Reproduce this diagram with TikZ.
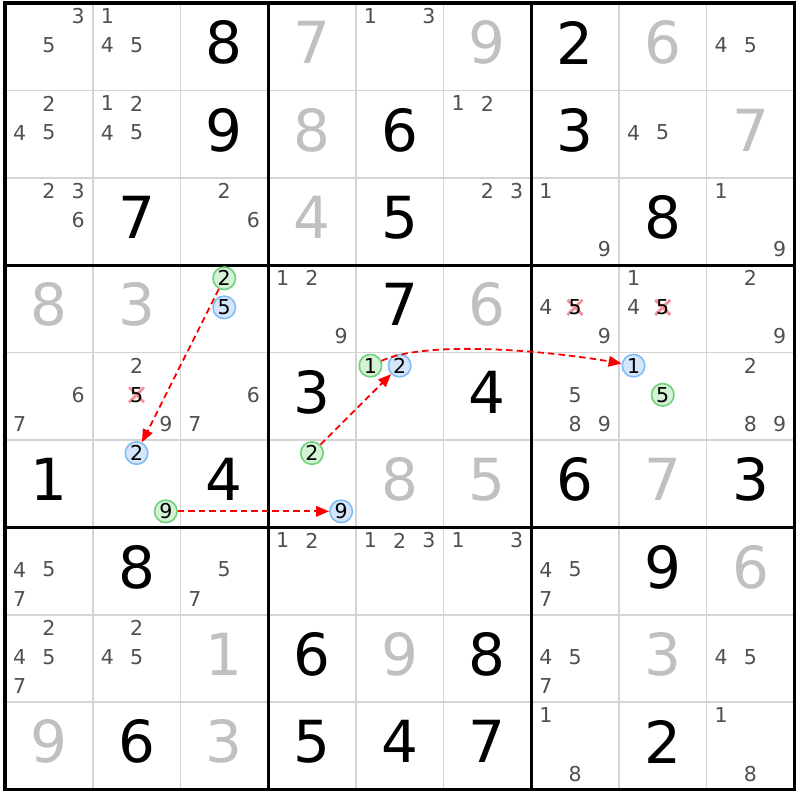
\documentclass[tikz,border=0pt]{standalone}
\usepackage{fontspec}
\setmainfont{DejaVu Sans}
\usetikzlibrary{arrows.meta}
\definecolor{gridgray}{RGB}{212,212,212}
\definecolor{candgray}{RGB}{80,80,80}
\definecolor{solvgray}{RGB}{192,192,192}
\definecolor{gfill}{RGB}{212,242,212}
\definecolor{gline}{RGB}{110,210,125}
\definecolor{bfill}{RGB}{212,230,252}
\definecolor{bline}{RGB}{130,188,242}
\definecolor{xpink}{RGB}{242,125,135}
\definecolor{linkred}{RGB}{250,0,0}
\tikzset{
  given/.style={inner sep=0pt,font=\fontsize{58}{60}\selectfont,text=black},
  solved/.style={given,text=solvgray},
  cand/.style={inner sep=0pt,font=\fontsize{20.5}{22}\selectfont,text=candgray},
  elim/.style={cand,text=black},
  xmark/.style={draw=xpink,line width=2.8pt,opacity=0.85},
  gmark/.style={circle,inner sep=0pt,minimum size=22.5pt,draw=gline,fill=gfill,line width=1.6pt,font=\fontsize{20.5}{22}\selectfont,text=black},
  bmark/.style={gmark,draw=bline,fill=bfill},
  thin grid/.style={draw=gridgray,line width=1.6pt},
  thick grid/.style={draw=black,line width=3.2pt},
  link/.style={draw=linkred,line width=1.8pt,dash pattern=on 6.5pt off 4pt,-{Triangle[length=13pt,width=10.5pt]}}
}
\newcommand\sdpos[3]{%
  \pgfmathsetmacro\px{5+87.7*#2+(mod(#3-1,3)+0.5)*29.233}%
  \pgfmathsetmacro\py{3+87.4*#1+(floor((#3-1)/3)+0.5)*29.133-1.5}}
\newcommand\sdbig[2]{%
  \pgfmathsetmacro\px{5+87.7*(#2+0.5)}%
  \pgfmathsetmacro\py{3+87.4*#1+39.5}}
\begin{document}
\begin{tikzpicture}[x=1pt,y=-1pt]
\useasboundingbox (0,0) rectangle (800,800);
\fill[white] (0,0) rectangle (800,800);
% thin grid
\foreach \i in {1,2,4,5,7,8} {
  \draw[thin grid] (5+87.7*\i,3) -- (5+87.7*\i,789.6);
  \draw[thin grid] (5,3+87.4*\i) -- (794.3,3+87.4*\i);
}
% thick grid
\foreach \i in {3,6} {
  \draw[thick grid] (5+87.7*\i,3) -- (5+87.7*\i,789.6);
  \draw[thick grid] (5,3+87.4*\i) -- (794.3,3+87.4*\i);
}
\draw[thick grid] (5,3) rectangle (794.3,789.6);
% given digits
\foreach \r/\c/\d in {0/2/8,0/6/2,1/2/9,1/4/6,1/6/3,2/1/7,2/4/5,2/7/8,3/4/7,4/3/3,4/5/4,5/0/1,5/2/4,5/6/6,5/8/3,6/1/8,6/7/9,7/3/6,7/5/8,8/1/6,8/3/5,8/4/4,8/5/7,8/7/2} {
  \sdbig{\r}{\c}
  \node[given] (v\r\c) at (\px,\py) {\d};
}
% solved digits
\foreach \r/\c/\d in {0/3/7,0/5/9,0/7/6,1/3/8,1/8/7,2/3/4,3/0/8,3/1/3,3/5/6,5/4/8,5/5/5,5/7/7,6/8/6,7/2/1,7/4/9,7/7/3,8/0/9,8/2/3} {
  \sdbig{\r}{\c}
  \node[solved] (v\r\c) at (\px,\py) {\d};
}
% candidates
\foreach \r/\c/\ds in {0/0/{3,5},0/1/{1,4,5},0/4/{1,3},0/8/{4,5},
  1/0/{2,4,5},1/1/{1,2,4,5},1/5/{1,2},1/7/{4,5},
  2/0/{2,3,6},2/2/{2,6},2/5/{2,3},2/6/{1,9},2/8/{1,9},
  3/3/{1,2,9},3/6/{4,9},3/7/{1,4},3/8/{2,9},
  4/0/{6,7},4/1/{2,9},4/2/{6,7},4/6/{5,8,9},4/8/{2,8,9},
  6/0/{4,5,7},6/2/{5,7},6/3/{1,2},6/4/{1,2,3},6/5/{1,3},6/6/{4,5,7},
  7/0/{2,4,5,7},7/1/{2,4,5},7/6/{4,5,7},7/8/{4,5},
  8/6/{1,8},8/8/{1,8}} {
  \foreach \d in \ds {
    \sdpos{\r}{\c}{\d}
    \node[cand] (k\r\c\d) at (\px,\py) {\d};
  }
}
% eliminated candidates
\foreach \r/\c/\d in {3/6/5,3/7/5,4/1/5} {
  \sdpos{\r}{\c}{\d}
  \coordinate (x\r\c\d) at (\px,\py);
  \draw[xmark] (x\r\c\d) ++(-7.5,-7.5) -- ++(15,15) ++(-15,0) -- ++(15,-15);
  \node[elim] (k\r\c\d) at (x\r\c\d) {\d};
}
% marked candidates
\sdpos{3}{2}{2} \node[gmark] (gA) at (\px,\py) {2};
\sdpos{3}{2}{5} \node[bmark] (bX) at (\px,\py) {5};
\sdpos{5}{1}{2} \node[bmark] (bA) at (\px,\py) {2};
\sdpos{5}{1}{9} \node[gmark] (gB) at (\px,\py) {9};
\sdpos{5}{3}{2} \node[gmark] (gC) at (\px,\py) {2};
\sdpos{5}{3}{9} \node[bmark] (bB) at (\px,\py) {9};
\sdpos{4}{4}{1} \node[gmark] (gD) at (\px,\py) {1};
\sdpos{4}{4}{2} \node[bmark] (bC) at (\px,\py) {2};
\sdpos{4}{7}{1} \node[bmark] (bD) at (\px,\py) {1};
\sdpos{4}{7}{5} \node[gmark] (gE) at (\px,\py) {5};
% links
\draw[link] (gA) -- (bA);
\draw[link] (gB) -- (bB);
\draw[link] (gC) -- (bC);
\draw[link] (gD) to[out=24,in=170,looseness=0.6] (bD);
\end{tikzpicture}
\end{document}
